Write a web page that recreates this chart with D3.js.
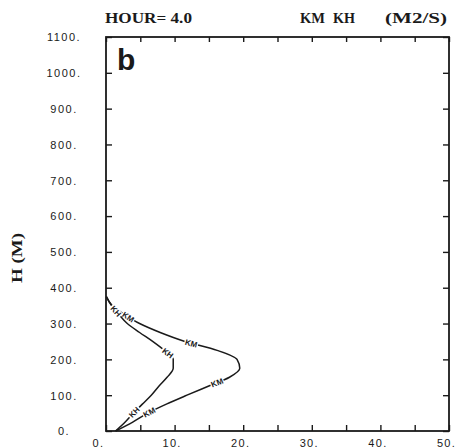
<!DOCTYPE html>
<html><head><meta charset="utf-8">
<script src="https://cdn.jsdelivr.net/npm/d3@7"></script>
<style>
html,body{margin:0;padding:0;background:#fff;}
svg{display:block;}
</style></head>
<body>
<script>
// ---- data ----
const heights = [0,25,50,75,100,125,150,175,200,225,250,275,300,325,350,375];
const km = [1.4,3.9,6.1,8.8,11.8,14.9,18.0,19.5,19.1,16.2,11.5,7.9,4.9,2.7,0.9,0.05];
const kh = [1.4,2.8,4.0,5.3,6.6,7.7,8.9,9.8,9.8,8.5,6.8,4.9,3.1,1.9,0.8,0.05];
const kmLabelHeights = [52,135,245,318];
const khLabelHeights = [52,217,335];
const xTicks = [0,5,10,15,20,25,30,35,40,45,50];
const yTicks = [0,100,200,300,400,500,600,700,800,900,1000,1100];
const titleLeft = "HOUR= 4.0";
const titleMid = ["KM", "KH"];
const titleRight = "(M2/S)";
const yTitle = "H (M)";
const panel = "b";

const W = 456, H = 448;
const svg = d3.select("body").append("svg").attr("width", W).attr("height", H);
const x = d3.scaleLinear().domain([0,50]).range([106,449]);
const y = d3.scaleLinear().domain([0,1100]).range([431,37]);
const ink = "#1a1a1a";
const tickFont = "'Liberation Sans', Arial, sans-serif";
const titleFont = "'Liberation Serif', 'DejaVu Serif', serif";

// axes (inward ticks)
const fmt = d => d + ".";
const gB = svg.append("g").attr("transform", `translate(0,${y(0)})`)
  .call(d3.axisBottom(x).tickValues(xTicks).tickSize(-6).tickPadding(10)
    .tickFormat(d => d % 10 === 0 ? fmt(d) : ""));
const gT = svg.append("g").attr("transform", `translate(0,${y(1100)})`)
  .call(d3.axisTop(x).tickValues(xTicks).tickSize(-5).tickFormat(""));
const gL = svg.append("g").attr("transform", `translate(${x(0)},0)`)
  .call(d3.axisLeft(y).tickValues(yTicks).tickSize(-6).tickFormat(fmt));
const gR = svg.append("g").attr("transform", `translate(${x(50)},0)`)
  .call(d3.axisRight(y).tickValues(yTicks).tickSize(-6).tickFormat(""));
[gB,gT,gL,gR].forEach(g => {
  g.select(".domain").remove();
  g.selectAll(".tick line").attr("stroke", ink).attr("stroke-width", 1.4);
});
gB.selectAll(".tick text").attr("font-family", tickFont).attr("font-size", 11)
  .attr("letter-spacing", "1.3px").attr("fill", ink).attr("dy", "0.5em")
  .attr("dx", d => d === 0 ? -8 : -3);
gL.selectAll(".tick text").attr("font-family", tickFont).attr("font-size", 11)
  .attr("letter-spacing", "1.5px").attr("fill", ink)
  .attr("text-anchor", "middle").attr("x", -42).attr("dy", "0.35em");

// frame
svg.append("rect").attr("x", x(0)).attr("y", y(1100))
  .attr("width", x(50) - x(0)).attr("height", y(0) - y(1100))
  .attr("fill", "none").attr("stroke", ink).attr("stroke-width", 1.8);

// curves
const lineGen = d3.line().x(d => x(d[1])).y(d => y(d[0])).curve(d3.curveMonotoneY);
const series = [
  {name: "KM", vals: km, labels: kmLabelHeights},
  {name: "KH", vals: kh, labels: khLabelHeights}
];
series.forEach(s => {
  const pts = heights.map((h, i) => [h, s.vals[i]]);
  const path = svg.append("path").datum(pts).attr("d", lineGen)
    .attr("fill", "none").attr("stroke", ink).attr("stroke-width", 1.5);
  const node = path.node();
  const L = node.getTotalLength();
  s.labels.forEach(hl => {
    const ty = y(hl);
    let best = 0, bd = Infinity;
    for (let l = 0; l <= L; l += 0.5) {
      const p = node.getPointAtLength(l);
      const dd = Math.abs(p.y - ty);
      if (dd < bd) { bd = dd; best = l; }
    }
    const p = node.getPointAtLength(best);
    const p1 = node.getPointAtLength(Math.max(0, best - 2));
    const p2 = node.getPointAtLength(Math.min(L, best + 2));
    let ang = Math.atan2(p2.y - p1.y, p2.x - p1.x) * 180 / Math.PI;
    if (ang > 90) ang -= 180;
    if (ang < -90) ang += 180;
    const g = svg.append("g").attr("transform", `translate(${p.x},${p.y}) rotate(${ang})`);
    g.append("rect").attr("x", -7).attr("y", -3.5).attr("width", 14).attr("height", 7).attr("fill", "#fff");
    g.append("text").text(s.name).attr("text-anchor", "middle").attr("dy", "0.35em")
      .attr("font-family", tickFont).attr("font-size", 8).attr("font-weight", "bold")
      .attr("fill", ink);
  });
});

// titles
const tText = (tx, ty, str, len) => svg.append("text").attr("x", tx).attr("y", ty).text(str)
  .attr("font-family", titleFont).attr("font-size", 14).attr("font-weight", "bold")
  .attr("textLength", len).attr("lengthAdjust", "spacingAndGlyphs").attr("fill", ink);
tText(105, 23, titleLeft, 87);
tText(300, 23, titleMid[0], 25);
tText(333, 23, titleMid[1], 22);
tText(385, 23, titleRight, 62);
svg.append("text").attr("transform", "translate(22,258) rotate(-90)")
  .attr("text-anchor", "middle").text(yTitle)
  .attr("font-family", titleFont).attr("font-size", 14).attr("font-weight", "bold")
  .attr("textLength", 50).attr("lengthAdjust", "spacingAndGlyphs").attr("fill", ink);
svg.append("text").attr("x", 117).attr("y", 70).text(panel)
  .attr("font-family", tickFont).attr("font-size", 30).attr("font-weight", "bold")
  .attr("fill", ink);
</script>
</body></html>
